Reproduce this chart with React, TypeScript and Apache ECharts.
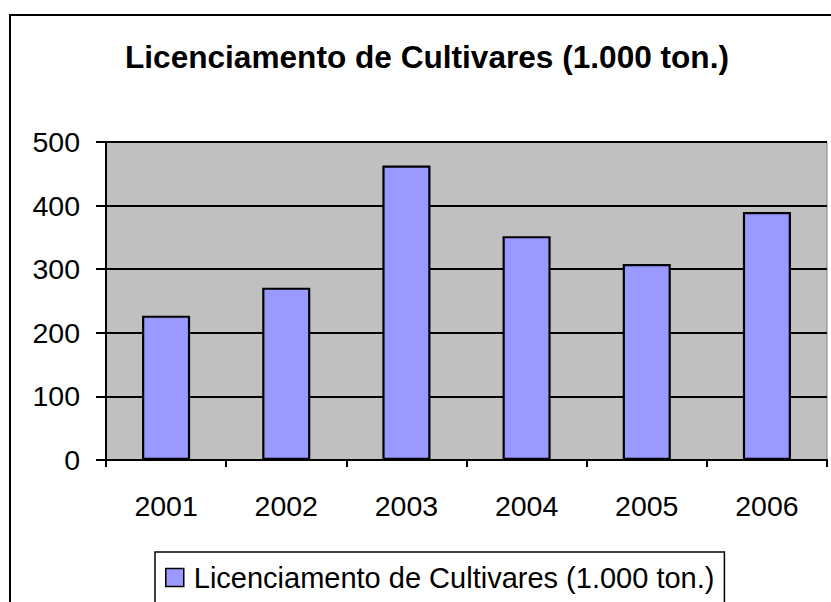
import React, { useEffect, useRef } from "react";
import * as echarts from "echarts";

const categories = ["2001", "2002", "2003", "2004", "2005", "2006"];
const values = [227, 271, 463, 352, 308, 390];
const seriesName = "Licenciamento de Cultivares (1.000 ton.)";
const titleText = "Licenciamento de Cultivares (1.000 ton.)";
const yMin = 0;
const yMax = 500;
const yInterval = 100;

const FONT = "'Liberation Sans', Arial, Helvetica, sans-serif";

export default function App() {
  const ref = useRef<HTMLDivElement>(null);
  useEffect(() => {
    if (!ref.current) return;
    const chart = echarts.init(ref.current, undefined, { renderer: "svg" });
    chart.setOption({
      animation: false,
      backgroundColor: "#ffffff",
      textStyle: { fontFamily: FONT },
      title: {
        text: titleText,
        left: 125,
        top: 41,
        padding: 0,
        textStyle: { fontFamily: FONT, fontSize: 31.6, fontWeight: "bold", color: "#000" },
      },
      graphic: [
        {
          type: "rect",
          shape: { x: 10, y: 15, width: 900, height: 700 },
          style: { fill: "none", stroke: "#000", lineWidth: 2 },
          silent: true,
          z: 100,
        },
      ],
      legend: {
        left: 155,
        top: 552,
        orient: "horizontal",
        padding: [11, 10, 12, 10],
        borderColor: "#000",
        borderWidth: 1.5,
        backgroundColor: "#fff",
        itemWidth: 18,
        itemHeight: 18,
        icon: "rect",
        textStyle: { fontFamily: FONT, fontSize: 29, color: "#000", padding: [0, 0, 0, 5] },
        data: [{ name: seriesName, itemStyle: { color: "#9999ff", borderColor: "#000", borderWidth: 1.5 } }],
      },
      grid: {
        left: 106,
        top: 142,
        right: 4,
        bottom: 142,
        show: true,
        backgroundColor: "#c0c0c0",
        borderColor: "#808080",
        borderWidth: 1,
        containLabel: false,
      },
      xAxis: {
        type: "category",
        data: categories,
        axisLine: { show: true, lineStyle: { color: "#000", width: 2 } },
        axisTick: { show: true, alignWithLabel: false, length: 7, lineStyle: { color: "#000", width: 2 } },
        axisLabel: { fontFamily: FONT, fontSize: 28.5, color: "#000", margin: 31 },
        splitLine: { show: false },
      },
      yAxis: {
        type: "value",
        min: yMin,
        max: yMax,
        interval: yInterval,
        axisLine: { show: true, lineStyle: { color: "#000", width: 2 } },
        axisTick: { show: true, length: 10, lineStyle: { color: "#000", width: 2 } },
        axisLabel: { fontFamily: FONT, fontSize: 28.5, color: "#000", margin: 26 },
        splitLine: { show: true, lineStyle: { color: "#000", width: 2 } },
      },
      series: [
        {
          name: seriesName,
          type: "bar",
          data: values,
          barWidth: "40%",
          itemStyle: { color: "#9999ff", borderColor: "#000", borderWidth: 2.2 },
        },
      ],
    });
    return () => chart.dispose();
  }, []);
  return (
    <div
      ref={ref}
      style={{ position: "absolute", left: 0, top: 0, width: 831, height: 602 }}
    />
  );
}
